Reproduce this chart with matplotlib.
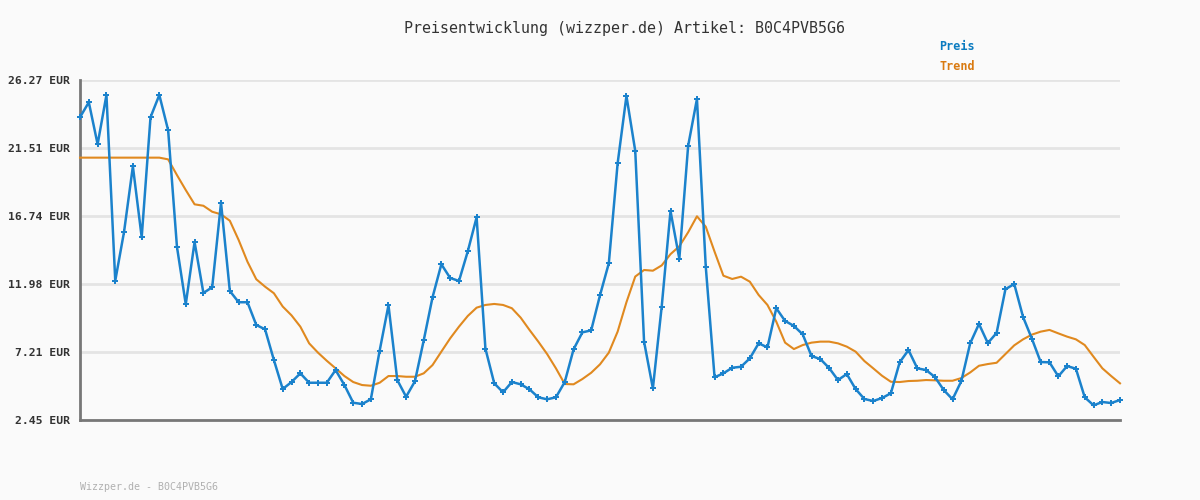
import numpy as np
import matplotlib.pyplot as plt

# Preis (blue) values, one per sample
preis = [23.66, 24.71, 21.77, 25.22, 12.21, 15.64, 20.22, 15.25, 23.66, 25.22,
         22.75, 14.59, 10.56, 14.92, 11.35, 11.75, 17.67, 11.49, 10.70, 10.70,
         9.11, 8.80, 6.65, 4.62, 5.11, 5.72, 5.06, 5.06, 5.06, 5.95,
         4.90, 3.66, 3.57, 3.90, 7.31, 10.49, 5.25, 4.08, 5.16, 8.03,
         11.05, 13.36, 12.40, 12.19, 14.27, 16.65, 7.45, 5.02, 4.39, 5.11,
         4.95, 4.60, 4.04, 3.90, 4.04, 5.11, 7.40, 8.59, 8.73, 11.19,
         13.43, 20.43, 25.15, 21.30, 7.94, 4.67, 10.39, 17.09, 13.75, 21.65,
         24.94, 13.19, 5.44, 5.72, 6.11, 6.18, 6.77, 7.82, 7.54, 10.28,
         9.39, 9.04, 8.45, 6.93, 6.72, 6.09, 5.25, 5.67, 4.62, 3.92,
         3.78, 3.99, 4.32, 6.49, 7.35, 6.07, 5.95, 5.46, 4.55, 3.90,
         5.18, 7.82, 9.18, 7.84, 8.55, 11.61, 11.98, 9.67, 8.15, 6.51,
         6.49, 5.51, 6.23, 6.04, 4.04, 3.48, 3.71, 3.64, 3.85]

# Trend (orange)
trend = [20.83, 20.83, 20.83, 20.83, 20.83, 20.83, 20.83, 20.83, 20.83, 20.83,
         20.71, 19.61, 18.56, 17.56, 17.46, 17.04, 16.86, 16.41, 15.06, 13.54,
         12.31, 11.79, 11.33, 10.40, 9.78, 8.99, 7.82, 7.17, 6.60, 6.07,
         5.53, 5.11, 4.90, 4.85, 5.06, 5.53, 5.53, 5.48, 5.48, 5.72,
         6.30, 7.24, 8.17, 8.99, 9.74, 10.32, 10.51, 10.58, 10.51, 10.28,
         9.62, 8.76, 7.94, 7.07, 6.07, 4.97, 4.95, 5.32, 5.76, 6.35,
         7.17, 8.64, 10.70, 12.50, 12.96, 12.91, 13.28, 14.07, 14.62, 15.60,
         16.72, 15.99, 14.24, 12.56, 12.33, 12.49, 12.14, 11.21, 10.51, 9.34,
         7.87, 7.42, 7.70, 7.87, 7.94, 7.94, 7.82, 7.59, 7.24, 6.58,
         6.07, 5.55, 5.13, 5.11, 5.18, 5.20, 5.25, 5.23, 5.20, 5.20,
         5.39, 5.78, 6.25, 6.37, 6.46, 7.07, 7.68, 8.10, 8.43, 8.64,
         8.76, 8.52, 8.29, 8.10, 7.70, 6.88, 6.07, 5.53, 5.02]

yticks = [2.45, 7.21, 11.98, 16.74, 21.51, 26.27]
ylabels = ['2.45 EUR', '7.21 EUR', '11.98 EUR', '16.74 EUR', '21.51 EUR', '26.27 EUR']

bg = '#fafafa'
blue = '#1b82cc'
orange = '#e0891f'
mono = 'DejaVu Sans Mono'

fig = plt.figure(figsize=(12, 5), dpi=100, facecolor=bg)
ax = fig.add_axes([80/1200, 80/500, 1040/1200, 340/500])
ax.set_facecolor(bg)

x = np.arange(len(preis))
ax.plot(x, trend, color=orange, lw=1.5, zorder=3, clip_on=False)
ax.plot(x, preis, color=blue, lw=1.8, marker='P', markersize=4.5,
        markeredgewidth=0, zorder=4, clip_on=False)

ax.set_xlim(0, len(preis) - 1)
ax.set_ylim(yticks[0], yticks[-1])
ax.set_xticks([])
ax.set_yticks(yticks)
ax.set_yticklabels(ylabels, family=mono, fontsize=8.2, fontweight='bold', color='#333333')
ax.tick_params(axis='y', length=0, pad=7)
ax.grid(axis='y', color='#e4e4e4', lw=2, zorder=0)

for s in ['top', 'right']:
    ax.spines[s].set_visible(False)
ax.spines['left'].set_color('#777777')
ax.spines['left'].set_linewidth(2)
ax.spines['bottom'].set_color('#777777')
ax.spines['bottom'].set_linewidth(2)

fig.text(624/1200, 1 - 28/500, 'Preisentwicklung (wizzper.de) Artikel: B0C4PVB5G6',
         family=mono, fontsize=10.8, color='#333333', ha='center', va='center')
fig.text(939/1200, 1 - 47/500, 'Preis', family=mono, fontsize=8.5, fontweight='bold',
         color='#0b7bc0', ha='left', va='center')
fig.text(939/1200, 1 - 67/500, 'Trend', family=mono, fontsize=8.5, fontweight='bold',
         color='#d97a10', ha='left', va='center')
fig.text(80/1200, 1 - 487/500, 'Wizzper.de - B0C4PVB5G6', family=mono, fontsize=7.2,
         color='#b0b0b0', ha='left', va='center')

fig.savefig('out.png', dpi=100, facecolor=bg)
plt.close()
